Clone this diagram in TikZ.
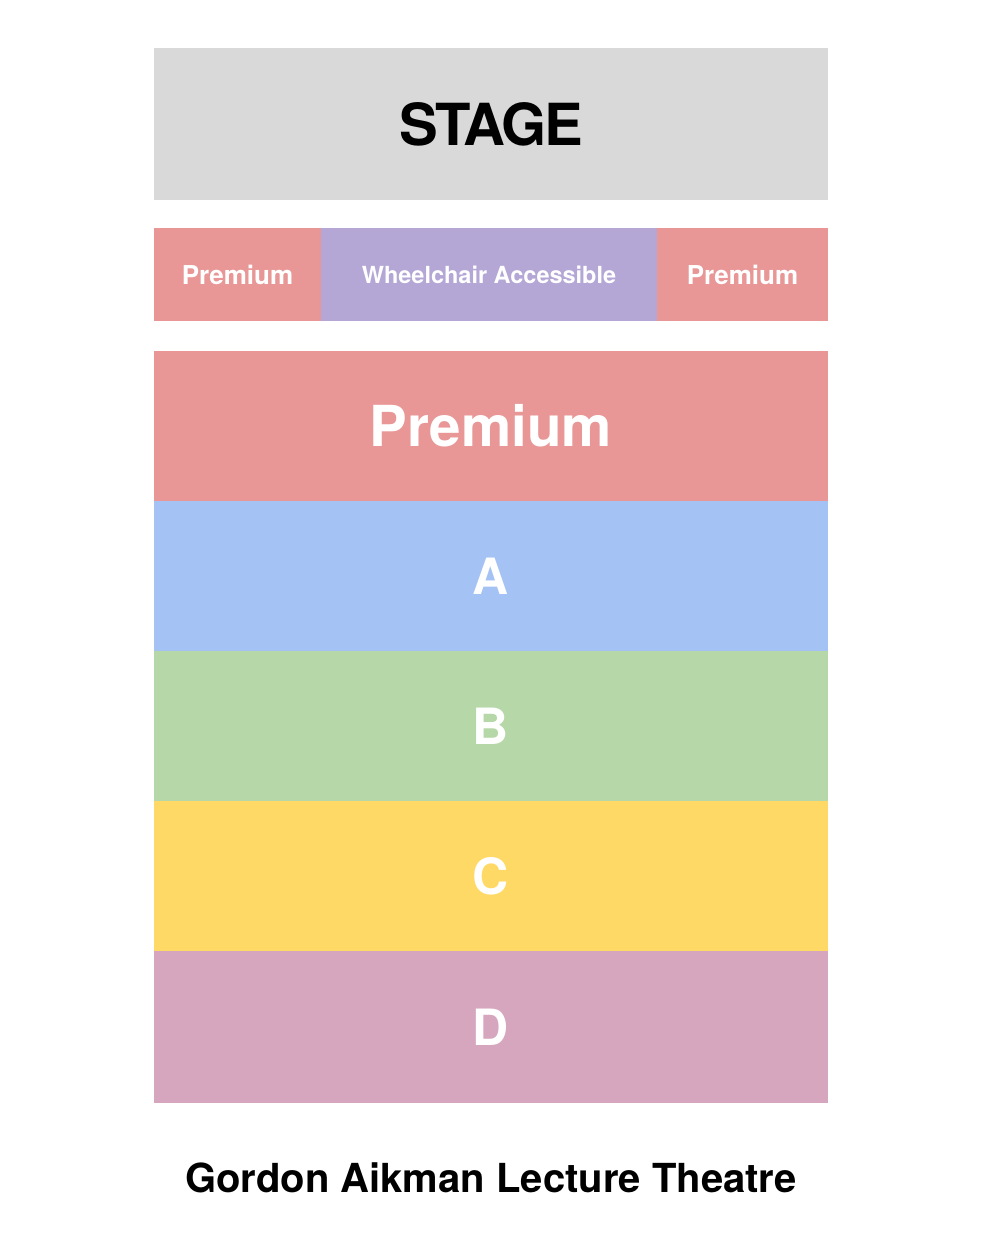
\documentclass[tikz,border=0pt]{standalone}
\usepackage{fontspec}
\setmainfont{TeX Gyre Heros}
\newfontfamily\stagefont{TeX Gyre Heros}[LetterSpace=-4]
\usepackage{xcolor}
\usetikzlibrary{positioning}

\definecolor{stagegray}{HTML}{D9D9D9}
\definecolor{premred}{HTML}{E89796}
\definecolor{wheelpurple}{HTML}{B4A7D6}
\definecolor{rowblue}{HTML}{A4C2F4}
\definecolor{rowgreen}{HTML}{B6D7A8}
\definecolor{rowyellow}{HTML}{FFD966}
\definecolor{rowpink}{HTML}{D5A6BD}

\newcommand{\fsz}[1]{\fontsize{#1}{#1}\selectfont\bfseries}

\tikzset{
	block/.style={inner sep=0pt, outer sep=0pt, minimum height=150pt, minimum width=674pt, text=white},
	seatrow/.style={block, font=\fsz{50}}
}

\begin{document}
\begin{tikzpicture}[x=1pt,y=-1pt]
		\useasboundingbox (0,0) rectangle (986,1246);
		\node[block, fill=stagegray, minimum height=152pt, text=black, font=\stagefont\fsz{58}] (stage) at (491,124) {STAGE};
		% front row
		\node[block, fill=premred, minimum width=167pt, minimum height=93pt, font=\fsz{26}] (premleft) at (237.5,274.5) {Premium};
		\node[block, fill=wheelpurple, minimum width=336pt, minimum height=93pt, font=\fsz{23.5}] (wheel) at (489,274.5) {Wheelchair Accessible};
		\node[block, fill=premred, minimum width=171pt, minimum height=93pt, font=\fsz{26}] (premright) at (742.5,274.5) {Premium};
		% main rows
		\node[block, fill=premred, font=\fsz{56.5}] (prem) at (491,426) {Premium};
		\node[seatrow, fill=rowblue, below=0pt of prem] (rowa) {A};
		\node[seatrow, fill=rowgreen, below=0pt of rowa] (rowb) {B};
		\node[seatrow, fill=rowyellow, below=0pt of rowb] (rowc) {C};
		\node[seatrow, fill=rowpink, minimum height=152pt, below=0pt of rowc] (rowd) {D};
		\node[font=\fsz{40}] (title) at (491,1178) {Gordon Aikman Lecture Theatre};
		\end{tikzpicture}
\end{document}
